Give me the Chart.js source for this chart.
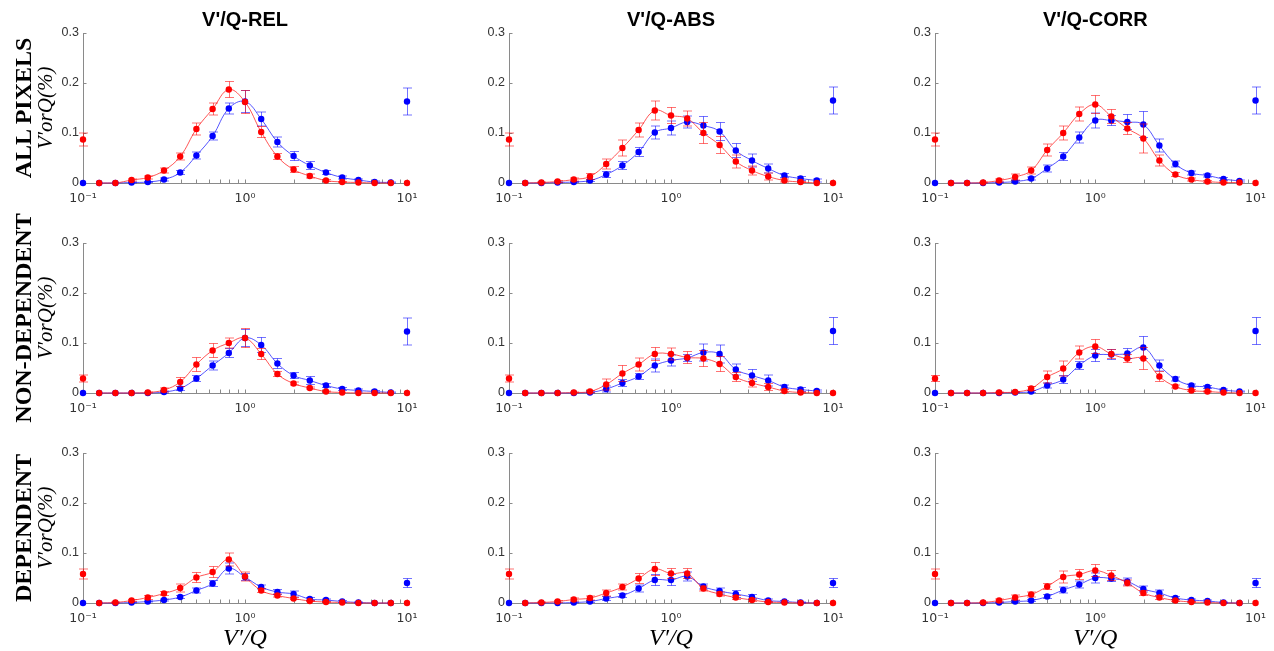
<!DOCTYPE html>
<html>
<head>
<meta charset="utf-8">
<script src="https://cdn.jsdelivr.net/npm/chart.js@4.4.1/dist/chart.umd.min.js"></script>
<style>
  html, body { margin: 0; padding: 0; background: #fff; }
  #stage { position: relative; width: 1274px; height: 651px; overflow: hidden; background: #fff; }
  #stage canvas { position: absolute; }
  .rowlabel {
    position: absolute; white-space: nowrap; color: #000;
    font-family: 'Liberation Serif', 'DejaVu Serif', serif; font-weight: bold; font-size: 24px;
    transform: translate(-50%, -50%) rotate(-90deg); line-height: 1; z-index: 5;
  }
</style>
</head>
<body>
<div id="stage"></div>
<script>
// ---------- data ----------
const xValues = [0.1, 0.1259, 0.1585, 0.1995, 0.2512, 0.3162, 0.3981, 0.5012, 0.631, 0.7943, 1,
                 1.259, 1.585, 1.995, 2.512, 3.162, 3.981, 5.012, 6.31, 7.943, 10];
const xTickValues = [0.1, 1, 10];
const xTickLabels = ['10⁻¹', '10⁰', '10¹'];
const xMinorTickValues = [0.1, 0.2, 0.3, 0.4, 0.5, 0.6, 0.7, 0.8, 0.9, 1, 2, 3, 4, 5, 6, 7, 8, 9, 10];
const yTickValues = [0, 0.1, 0.2, 0.3];
const yTickLabels = ['0', '0.1', '0.2', '0.3'];
const columnTitles = ["V'/Q-REL", "V'/Q-ABS", "V'/Q-CORR"];
const rowLabels = ['ALL PIXELS', 'NON-DEPENDENT', 'DEPENDENT'];
const yAxisLabel = 'V′orQ(%)';
const xAxisLabel = 'V′/Q';

// ALL PIXELS
const blueRelAll    = [0, 0, 0, 0.001, 0.002, 0.007, 0.021, 0.055, 0.094, 0.149, 0.163, 0.128, 0.082, 0.054, 0.035, 0.021, 0.011, 0.006, 0.002, 0.001, 0.163];
const blueErrRelAll = [0, 0, 0, 0.001, 0.001, 0.003, 0.004, 0.007, 0.008, 0.011, 0.022, 0.014, 0.010, 0.009, 0.008, 0.004, 0.003, 0.002, 0.002, 0.001, 0.027];
const redRelAll     = [0.087, 0, 0, 0.006, 0.011, 0.025, 0.053, 0.108, 0.148, 0.187, 0.162, 0.102, 0.053, 0.027, 0.014, 0.005, 0.002, 0.001, 0, 0, 0];
const redErrRelAll  = [0.013, 0, 0, 0.002, 0.003, 0.005, 0.007, 0.012, 0.012, 0.016, 0.023, 0.011, 0.006, 0.006, 0.004, 0.002, 0.001, 0, 0, 0, 0];

const blueAbsAll    = [0, 0, 0, 0.001, 0.002, 0.005, 0.017, 0.035, 0.062, 0.101, 0.110, 0.122, 0.115, 0.103, 0.065, 0.045, 0.029, 0.015, 0.009, 0.005, 0.165];
const blueErrAbsAll = [0, 0, 0, 0.001, 0.001, 0.002, 0.006, 0.008, 0.009, 0.013, 0.014, 0.012, 0.018, 0.018, 0.014, 0.013, 0.009, 0.004, 0.004, 0.003, 0.027];
const redAbsAll     = [0.087, 0, 0.001, 0.003, 0.007, 0.013, 0.038, 0.070, 0.106, 0.145, 0.135, 0.129, 0.100, 0.076, 0.043, 0.025, 0.013, 0.005, 0.002, 0, 0];
const redErrAbsAll  = [0.013, 0, 0.001, 0.002, 0.003, 0.006, 0.010, 0.016, 0.014, 0.019, 0.016, 0.015, 0.021, 0.017, 0.013, 0.009, 0.007, 0.003, 0.001, 0, 0];

const blueCorrAll    = [0, 0, 0, 0, 0.001, 0.003, 0.009, 0.029, 0.053, 0.091, 0.125, 0.125, 0.122, 0.117, 0.075, 0.038, 0.020, 0.015, 0.008, 0.004, 0.165];
const blueErrCorrAll = [0, 0, 0, 0, 0.001, 0.002, 0.003, 0.007, 0.008, 0.011, 0.015, 0.010, 0.015, 0.026, 0.013, 0.006, 0.004, 0.003, 0.003, 0.002, 0.027];
const redCorrAll     = [0.087, 0, 0, 0.001, 0.005, 0.012, 0.025, 0.066, 0.100, 0.138, 0.157, 0.133, 0.109, 0.089, 0.045, 0.017, 0.007, 0.003, 0.001, 0.001, 0];
const redErrCorrAll  = [0.013, 0, 0, 0.001, 0.003, 0.006, 0.007, 0.012, 0.014, 0.014, 0.018, 0.014, 0.012, 0.029, 0.011, 0.004, 0.003, 0.002, 0.001, 0, 0];

// NON-DEPENDENT
const blueRelNon    = [0, 0, 0, 0, 0, 0.002, 0.009, 0.029, 0.055, 0.080, 0.110, 0.096, 0.059, 0.035, 0.025, 0.015, 0.008, 0.005, 0.003, 0.001, 0.123];
const blueErrRelNon = [0, 0, 0, 0, 0, 0.002, 0.004, 0.006, 0.009, 0.009, 0.017, 0.015, 0.010, 0.006, 0.008, 0.004, 0.003, 0.003, 0.002, 0.001, 0.027];
const redRelNon     = [0.029, 0, 0, 0, 0.001, 0.006, 0.022, 0.057, 0.085, 0.100, 0.110, 0.078, 0.038, 0.019, 0.010, 0.003, 0.001, 0, 0, 0, 0];
const redErrRelNon  = [0.007, 0, 0, 0, 0.001, 0.004, 0.009, 0.014, 0.014, 0.010, 0.019, 0.011, 0.005, 0.003, 0.002, 0.001, 0, 0, 0, 0, 0];

const blueAbsNon    = [0, 0, 0, 0, 0, 0.001, 0.008, 0.020, 0.033, 0.055, 0.065, 0.070, 0.081, 0.078, 0.047, 0.035, 0.025, 0.012, 0.007, 0.004, 0.124];
const blueErrAbsNon = [0, 0, 0, 0, 0, 0.001, 0.006, 0.007, 0.006, 0.013, 0.011, 0.007, 0.017, 0.018, 0.011, 0.012, 0.011, 0.004, 0.004, 0.002, 0.027];
const redAbsNon     = [0.029, 0, 0, 0, 0.001, 0.003, 0.017, 0.039, 0.057, 0.078, 0.078, 0.071, 0.069, 0.058, 0.032, 0.020, 0.012, 0.004, 0.001, 0, 0];
const redErrAbsNon  = [0.007, 0, 0, 0, 0.001, 0.002, 0.011, 0.016, 0.013, 0.013, 0.012, 0.012, 0.016, 0.015, 0.009, 0.008, 0.007, 0.003, 0.001, 0, 0];

const blueCorrNon    = [0, 0, 0, 0, 0, 0.001, 0.003, 0.015, 0.027, 0.055, 0.075, 0.077, 0.079, 0.091, 0.055, 0.028, 0.015, 0.012, 0.006, 0.003, 0.124];
const blueErrCorrNon = [0, 0, 0, 0, 0, 0.001, 0.002, 0.005, 0.008, 0.008, 0.012, 0.010, 0.010, 0.022, 0.011, 0.004, 0.003, 0.003, 0.002, 0.001, 0.027];
const redCorrNon     = [0.029, 0, 0, 0, 0.001, 0.002, 0.009, 0.032, 0.049, 0.081, 0.093, 0.078, 0.069, 0.069, 0.033, 0.013, 0.005, 0.003, 0.001, 0, 0];
const redErrCorrNon  = [0.006, 0, 0, 0, 0.001, 0.001, 0.004, 0.012, 0.015, 0.013, 0.014, 0.009, 0.008, 0.022, 0.010, 0.003, 0.002, 0.001, 0, 0, 0];

// DEPENDENT
const blueRelDep    = [0, 0, 0, 0.001, 0.003, 0.006, 0.012, 0.025, 0.039, 0.069, 0.052, 0.032, 0.022, 0.018, 0.008, 0.006, 0.003, 0.001, 0, 0, 0.040];
const blueErrRelDep = [0, 0, 0, 0.001, 0.001, 0.002, 0.003, 0.005, 0.006, 0.011, 0.007, 0.004, 0.005, 0.006, 0.003, 0.002, 0.002, 0.001, 0, 0, 0.009];
const redRelDep     = [0.058, 0, 0.001, 0.005, 0.011, 0.019, 0.030, 0.051, 0.062, 0.087, 0.053, 0.025, 0.015, 0.009, 0.004, 0.002, 0.001, 0, 0, 0, 0];
const redErrRelDep  = [0.010, 0, 0.001, 0.002, 0.004, 0.004, 0.008, 0.010, 0.011, 0.013, 0.009, 0.004, 0.003, 0.002, 0.001, 0.001, 0, 0, 0, 0, 0];

const blueAbsDep    = [0, 0, 0, 0, 0.001, 0.003, 0.009, 0.015, 0.029, 0.046, 0.046, 0.053, 0.033, 0.024, 0.018, 0.012, 0.005, 0.003, 0.001, 0, 0.040];
const blueErrAbsDep = [0, 0, 0, 0, 0.001, 0.002, 0.004, 0.004, 0.007, 0.011, 0.011, 0.009, 0.005, 0.006, 0.007, 0.005, 0.003, 0.002, 0.001, 0, 0.009];
const redAbsDep     = [0.058, 0, 0.001, 0.003, 0.007, 0.010, 0.020, 0.032, 0.049, 0.068, 0.059, 0.059, 0.029, 0.018, 0.011, 0.006, 0.002, 0.001, 0, 0, 0];
const redErrAbsDep  = [0.010, 0, 0.001, 0.002, 0.003, 0.004, 0.006, 0.006, 0.010, 0.013, 0.010, 0.010, 0.005, 0.004, 0.004, 0.003, 0.001, 0, 0, 0, 0];

const blueCorrDep    = [0, 0, 0, 0, 0.001, 0.003, 0.005, 0.013, 0.026, 0.037, 0.050, 0.049, 0.043, 0.028, 0.020, 0.010, 0.006, 0.004, 0.001, 0, 0.040];
const blueErrCorrDep = [0, 0, 0, 0, 0.001, 0.002, 0.002, 0.004, 0.006, 0.007, 0.010, 0.006, 0.007, 0.006, 0.006, 0.003, 0.002, 0.002, 0.001, 0, 0.009];
const redCorrDep     = [0.058, 0, 0, 0.001, 0.005, 0.011, 0.017, 0.033, 0.052, 0.057, 0.065, 0.055, 0.040, 0.020, 0.011, 0.005, 0.002, 0.001, 0, 0, 0];
const redErrCorrDep  = [0.010, 0, 0, 0.001, 0.003, 0.005, 0.005, 0.006, 0.012, 0.010, 0.012, 0.010, 0.006, 0.005, 0.004, 0.002, 0.001, 0, 0, 0, 0];

// ---------- panel table built from the arrays ----------
const panels = [
  [ {blue: blueRelAll, blueErr: blueErrRelAll, red: redRelAll, redErr: redErrRelAll},
    {blue: blueAbsAll, blueErr: blueErrAbsAll, red: redAbsAll, redErr: redErrAbsAll},
    {blue: blueCorrAll, blueErr: blueErrCorrAll, red: redCorrAll, redErr: redErrCorrAll} ],
  [ {blue: blueRelNon, blueErr: blueErrRelNon, red: redRelNon, redErr: redErrRelNon},
    {blue: blueAbsNon, blueErr: blueErrAbsNon, red: redAbsNon, redErr: redErrAbsNon},
    {blue: blueCorrNon, blueErr: blueErrCorrNon, red: redCorrNon, redErr: redErrCorrNon} ],
  [ {blue: blueRelDep, blueErr: blueErrRelDep, red: redRelDep, redErr: redErrRelDep},
    {blue: blueAbsDep, blueErr: blueErrAbsDep, red: redAbsDep, redErr: redErrAbsDep},
    {blue: blueCorrDep, blueErr: blueErrCorrDep, red: redCorrDep, redErr: redErrCorrDep} ]
];

// ---------- layout / style ----------
const COL_LEFT = [0, 426, 852], COL_W = [426, 426, 422];
const ROW_TOP = [0, 210, 420], ROW_H = [210, 210, 231];
const PLOT_LEFT = 83, PLOT_W = 324, PLOT_TOP = 33, PLOT_H = 150;
const AXIS_COLOR = '#8a8a8a';
const TICK_TEXT = '#333333';
const SANS = "'Liberation Sans', Arial, Helvetica, sans-serif";
const SUPSANS = "'DejaVu Sans', 'Liberation Sans', sans-serif";
const SERIF = "'Liberation Serif', 'DejaVu Serif', serif";
const RED = '#ff0000', BLUE = '#0000ff';

// error bars drawn through the library's y scale
const errorBars = {
  id: 'errorBars',
  beforeDatasetDraw(chart, args) {
    const ds = chart.data.datasets[args.index];
    if (!ds.errors) return;
    const {ctx} = chart; const ys = chart.scales.y;
    ctx.save();
    ctx.strokeStyle = ds.errColor; ctx.lineWidth = 1;
    args.meta.data.forEach((pt, i) => {
      const e = ds.errors[i];
      if (!e) return;
      const v = ds.data[i].y;
      const x = Math.round(pt.x) + 0.5;
      const yt = ys.getPixelForValue(v + e), yb = ys.getPixelForValue(v - e);
      ctx.beginPath();
      ctx.moveTo(x, yt); ctx.lineTo(x, yb);
      ctx.moveTo(x - 4.5, yt); ctx.lineTo(x + 4.5, yt);
      ctx.moveTo(x - 4.5, yb); ctx.lineTo(x + 4.5, yb);
      ctx.stroke();
    });
    ctx.restore();
  }
};

// inward tick marks
const innerTicks = {
  id: 'innerTicks',
  beforeDatasetsDraw(chart) {
    const {ctx, chartArea: a, scales: {x, y}} = chart;
    ctx.save(); ctx.strokeStyle = AXIS_COLOR; ctx.lineWidth = 1;
    ctx.beginPath();
    yTickValues.forEach(v => {
      const py = Math.round(y.getPixelForValue(v)) + 0.5;
      ctx.moveTo(a.left, py); ctx.lineTo(a.left + 3.5, py);
    });
    xMinorTickValues.forEach(v => {
      const px = Math.round(x.getPixelForValue(v)) + 0.5;
      ctx.moveTo(px, a.bottom); ctx.lineTo(px, a.bottom - 3.5);
    });
    ctx.stroke(); ctx.restore();
  }
};

function pts(vals, from, to) {
  const out = [];
  for (let i = from; i < to; i++) out.push({x: xValues[i], y: vals[i]});
  return out;
}

const stage = document.getElementById('stage');

for (let r = 0; r < 3; r++) {
  for (let c = 0; c < 3; c++) {
    const p = panels[r][c];
    const W = COL_W[c], H = ROW_H[r];
    const cv = document.createElement('canvas');
    cv.width = W; cv.height = H;
    cv.style.left = COL_LEFT[c] + 'px'; cv.style.top = ROW_TOP[r] + 'px';
    cv.style.width = W + 'px'; cv.style.height = H + 'px';
    stage.appendChild(cv);

    const xAxisH = H - PLOT_TOP - PLOT_H;
    new Chart(cv, {
      type: 'scatter',
      data: {
        datasets: [
          {label: 'red', data: pts(p.red, 0, 21), errors: p.redErr, errColor: 'rgba(255,0,0,0.55)',
           pointRadius: 3.2, pointBackgroundColor: RED, pointBorderWidth: 0, showLine: false, order: 0, clip: false},
          {label: 'blue', data: pts(p.blue, 0, 21), errors: p.blueErr, errColor: 'rgba(0,0,255,0.55)',
           pointRadius: 3.2, pointBackgroundColor: BLUE, pointBorderWidth: 0, showLine: false, order: 1, clip: false},
          {label: 'red fit', data: pts(p.red, 1, 20), showLine: true, pointRadius: 0, borderColor: 'rgba(255,30,30,0.75)',
           borderWidth: 1, tension: 0.4, order: 2, clip: false},
          {label: 'blue fit', data: pts(p.blue, 1, 20), showLine: true, pointRadius: 0, borderColor: 'rgba(30,30,255,0.75)',
           borderWidth: 1, tension: 0.4, order: 3, clip: false}
        ]
      },
      options: {
        responsive: false, animation: false, events: [],
        layout: { padding: { left: 0, top: r === 0 ? 0 : PLOT_TOP, right: W - PLOT_LEFT - PLOT_W, bottom: 0 } },
        plugins: {
          legend: { display: false },
          tooltip: { enabled: false },
          title: {
            display: r === 0, text: columnTitles[c], fullSize: false, color: '#000',
            font: { family: SANS, size: 20, weight: 'bold', lineHeight: 1.2 },
            padding: { top: 8, bottom: 1 }
          }
        },
        scales: {
          x: {
            type: 'logarithmic', position: 'bottom', min: 0.1, max: 10,
            grid: { display: false, drawTicks: false },
            border: { display: true, color: AXIS_COLOR, width: 1 },
            afterBuildTicks: s => { s.ticks = xTickValues.map(v => ({value: v})); },
            afterFit: s => { s.height = xAxisH; },
            ticks: {
              autoSkip: false, maxRotation: 0, padding: 8, color: TICK_TEXT,
              font: { family: SUPSANS, size: 12.5 },
              callback: v => { const k = xTickValues.indexOf(v); return k >= 0 ? xTickLabels[k] : ''; }
            },
            title: {
              display: r === 2, text: xAxisLabel, color: '#000',
              font: { family: SERIF, size: 24, style: 'italic', lineHeight: 1 },
              padding: { top: 0, bottom: 0 }
            }
          },
          y: {
            type: 'linear', position: 'left', min: 0, max: 0.3,
            grid: { display: false, drawTicks: false },
            border: { display: true, color: AXIS_COLOR, width: 1 },
            afterBuildTicks: s => { s.ticks = yTickValues.map(v => ({value: v})); },
            afterFit: s => { s.width = PLOT_LEFT; },
            ticks: {
              padding: 4, color: TICK_TEXT, font: { family: SANS, size: 12.5 },
              callback: v => { const k = yTickValues.indexOf(v); return k >= 0 ? yTickLabels[k] : ''; }
            },
            title: {
              display: c === 0, text: yAxisLabel, color: '#000',
              font: { family: SERIF, size: 21, style: 'italic', lineHeight: 1 },
              padding: { top: 36, bottom: 0 }
            }
          }
        }
      },
      plugins: [errorBars, innerTicks]
    });
  }
  const lab = document.createElement('div');
  lab.className = 'rowlabel';
  lab.textContent = rowLabels[r];
  lab.style.left = '22.5px';
  lab.style.top = (ROW_TOP[r] + PLOT_TOP + PLOT_H / 2) + 'px';
  stage.appendChild(lab);
}
</script>
</body>
</html>
